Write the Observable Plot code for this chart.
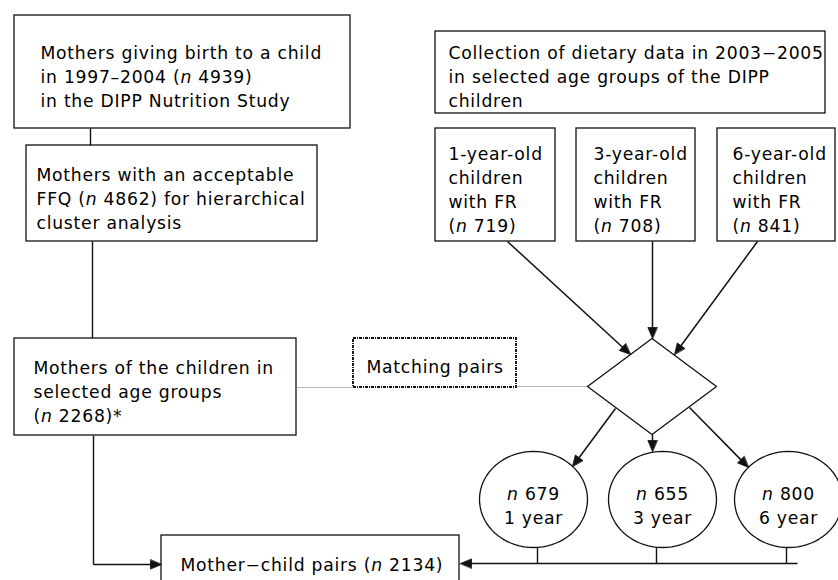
<!DOCTYPE html>
<html><head><meta charset="utf-8">
<script src="https://cdn.jsdelivr.net/npm/d3@7"></script>
<script src="https://cdn.jsdelivr.net/npm/@observablehq/plot@0.6"></script>
<style>
html,body{margin:0;padding:0;background:#fff;}
#chart svg{display:block;background:#fff;}
#chart svg text{letter-spacing:0.75px;}
</style></head><body><div id="chart"></div>
<script>
// ---- data ----
const birthYears = "1997–2004";
const dietYears = "2003−2005";
const cohortN = [4939, 4862, 2268];
const childAges = [1, 3, 6];
const childFRn = [719, 708, 841];
const matchedN = [679, 655, 800];
const pairsN = 2134;

const labelBirth = ["Mothers giving birth to a child", `in ${birthYears} (n ${cohortN[0]})`, "in the DIPP Nutrition Study"];
const labelFFQ = ["Mothers with an acceptable", `FFQ (n ${cohortN[1]}) for hierarchical`, "cluster analysis"];
const labelMothers = ["Mothers of the children in", "selected age groups", `(n ${cohortN[2]})*`];
const labelDiet = [`Collection of dietary data in ${dietYears}`, "in selected age groups of the DIPP", "children"];
const labelGroups = childAges.map((a, i) => [`${a}-year-old`, "children", "with FR", `(n ${childFRn[i]})`]);
const labelCircles = matchedN.map((n, i) => [`n ${n}`, `${childAges[i]} year`]);
const labelPairs = `Mother−child pairs (n ${pairsN})`;
const labelMatching = "Matching pairs";

// ---- layout (positions in pixels of the 838x580 frame) ----
const FS = 17.2, LH = 24, TOP = 0.71 * FS;
const ink = "#111";
const boxes = [
  {x1: 14, x2: 350, y1: 15, y2: 128, tx: 40, ty: 54, lines: labelBirth},
  {x1: 26, x2: 317, y1: 145, y2: 241, tx: 36, ty: 176, lines: labelFFQ},
  {x1: 14, x2: 296, y1: 338, y2: 435, tx: 33, ty: 369, lines: labelMothers},
  {x1: 435, x2: 825, y1: 31, y2: 113, tx: 448, ty: 54, lines: labelDiet},
  {x1: 435, x2: 555, y1: 128, y2: 241, tx: 448, ty: 155, lines: labelGroups[0]},
  {x1: 576, x2: 695, y1: 128, y2: 241, tx: 593, ty: 155, lines: labelGroups[1]},
  {x1: 717, x2: 835, y1: 128, y2: 241, tx: 732, ty: 155, lines: labelGroups[2]},
  {x1: 161, x2: 459, y1: 535, y2: 590, tx: 180, ty: 566, lines: [labelPairs]}
];
const matchBox = [{x1: 353, x2: 516, y1: 338, y2: 387, tx: 366, ty: 368, lines: [labelMatching]}];
const diamond = {cx: 651.5, cy: 386, hw: 64.5, hh: 48};
const circles = [{cx: 533}, {cx: 662}, {cx: 788}].map((c, i) => ({...c, cy: 499, rx: 54, ry: 48, lines: labelCircles[i]}));

const plainLines = [
  {x1: 90, y1: 128, x2: 90, y2: 145},
  {x1: 92, y1: 241, x2: 92, y2: 338},
  {x1: 93, y1: 435, x2: 93, y2: 564},
  {x1: 537, y1: 547, x2: 537, y2: 563},
  {x1: 656, y1: 547, x2: 656, y2: 563},
  {x1: 786, y1: 547, x2: 786, y2: 563}
];
const dottedLines = [
  {x1: 296, y1: 387, x2: 353, y2: 387},
  {x1: 516, y1: 386, x2: 587, y2: 386}
];
const arrows = [
  {x1: 93, y1: 564, x2: 161, y2: 564},
  {x1: 797, y1: 563, x2: 460, y2: 563},
  {x1: 507, y1: 241, x2: 630, y2: 354},
  {x1: 652, y1: 241, x2: 652, y2: 338},
  {x1: 757, y1: 241, x2: 674, y2: 354},
  {x1: 615, y1: 408, x2: 572, y2: 466},
  {x1: 652, y1: 434, x2: 652, y2: 451},
  {x1: 689, y1: 407, x2: 748, y2: 467}
];

// arrow shafts end at the base of a filled head
const HL = 11, HW = 4.6;
const shafts = [], heads = [];
arrows.forEach((a, k) => {
  const dx = a.x2 - a.x1, dy = a.y2 - a.y1, len = Math.hypot(dx, dy);
  const ux = dx / len, uy = dy / len, px = -uy, py = ux;
  const bx = a.x2 - ux * HL, by = a.y2 - uy * HL;
  shafts.push({x1: a.x1, y1: a.y1, x2: bx + ux, y2: by + uy});
  heads.push({k, x: a.x2, y: a.y2}, {k, x: bx + px * HW, y: by + py * HW}, {k, x: bx - px * HW, y: by - py * HW});
});

const diamondPts = [
  {x: diamond.cx - diamond.hw, y: diamond.cy}, {x: diamond.cx, y: diamond.cy - diamond.hh},
  {x: diamond.cx + diamond.hw, y: diamond.cy}, {x: diamond.cx, y: diamond.cy + diamond.hh}
];
const ellipsePts = circles.flatMap((c, k) => d3.range(0, 72).map(j => {
  const t = j / 72 * 2 * Math.PI;
  return {k, x: c.cx + c.rx * Math.cos(t), y: c.cy + c.ry * Math.sin(t)};
}));

const textRows = boxes.concat(matchBox).map(b => ({x: b.tx, y: b.ty - TOP, text: b.lines.join("\n")}));
const circleText = circles.map(c => ({x: c.cx, y: 495 - TOP, text: c.lines.join("\n")}));

const textOpts = {fontSize: FS, fontFamily: "DejaVu Sans", lineAnchor: "top", lineHeight: LH / FS, fill: "#000"};

const chart = Plot.plot({
  width: 838, height: 580, margin: 0,
  x: {domain: [0, 838], range: [0, 838], axis: null},
  y: {domain: [0, 580], range: [0, 580], axis: null},
  marks: [
    Plot.rect(boxes, {x1: "x1", x2: "x2", y1: "y1", y2: "y2", fill: "white", stroke: ink, strokeWidth: 1.3}),
    Plot.rect(matchBox, {x1: "x1", x2: "x2", y1: "y1", y2: "y2", fill: "white", stroke: ink, strokeWidth: 1.9, strokeDasharray: "3,1,1,1"}),
    Plot.link(dottedLines, {x1: "x1", y1: "y1", x2: "x2", y2: "y2", stroke: "#6e6e6e", strokeWidth: 1, strokeDasharray: "1,1"}),
    Plot.link(plainLines, {x1: "x1", y1: "y1", x2: "x2", y2: "y2", stroke: ink, strokeWidth: 1.4}),
    Plot.link(shafts, {x1: "x1", y1: "y1", x2: "x2", y2: "y2", stroke: ink, strokeWidth: 1.5}),
    Plot.line(diamondPts, {x: "x", y: "y", curve: "linear-closed", fill: "white", stroke: ink, strokeWidth: 1.3}),
    Plot.line(ellipsePts, {x: "x", y: "y", z: "k", curve: "linear-closed", fill: "white", stroke: ink, strokeWidth: 1.3}),
    Plot.line(heads, {x: "x", y: "y", z: "k", curve: "linear-closed", fill: ink, stroke: ink, strokeWidth: 0.8}),
    Plot.text(textRows, {...textOpts, x: "x", y: "y", text: "text", textAnchor: "start"}),
    Plot.text(circleText, {...textOpts, x: "x", y: "y", text: "text", textAnchor: "middle"})
  ]
});
document.getElementById("chart").appendChild(chart);

// italic "n" in sample-size labels
const walker = document.createTreeWalker(chart, NodeFilter.SHOW_TEXT);
const nodes = [];
while (walker.nextNode()) nodes.push(walker.currentNode);
for (const node of nodes) {
  const s = node.nodeValue;
  const m = s.match(/(^|\()n(?= \d)/);
  if (!m) continue;
  const idx = m.index + m[1].length;
  const parent = node.parentNode;
  const t1 = document.createTextNode(s.slice(0, idx));
  const it = document.createElementNS("http://www.w3.org/2000/svg", "tspan");
  it.setAttribute("font-style", "italic");
  it.textContent = "n";
  const t2 = document.createTextNode(s.slice(idx + 1));
  parent.replaceChild(t2, node);
  parent.insertBefore(it, t2);
  parent.insertBefore(t1, it);
}
</script></body></html>
